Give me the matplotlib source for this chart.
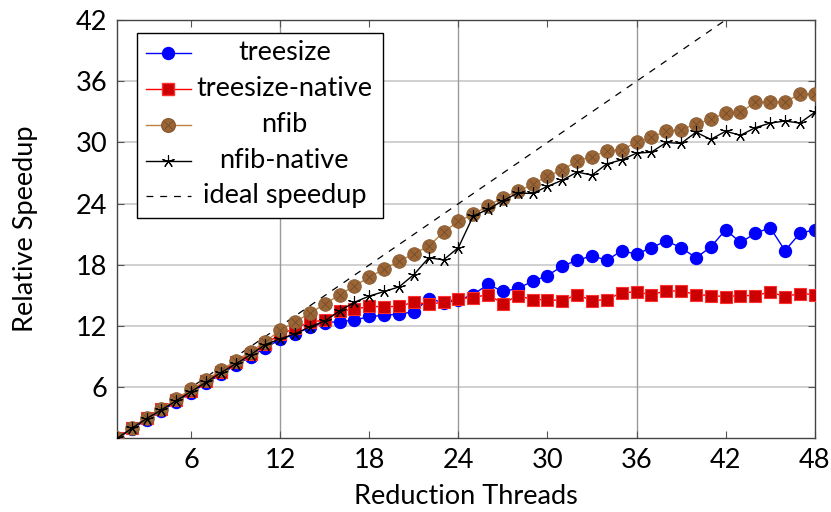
import matplotlib
matplotlib.use('Agg')
import matplotlib.pyplot as plt
from matplotlib.lines import Line2D
from matplotlib.patches import Rectangle

plt.rcParams['font.family'] = ['Lato', 'DejaVu Sans']

# data
threads = list(range(1, 49))

treesize = [1.0, 1.9, 2.85, 3.7, 4.6, 5.5, 6.4, 7.3, 8.2, 9.0, 9.9, 10.7,
            11.25, 11.9, 12.35, 12.45, 12.6, 12.95, 13.05, 13.2, 13.4, 14.7,
            14.3, 14.55, 15.1, 16.1, 15.4, 15.7, 16.4, 16.95, 17.9, 18.45,
            18.9, 18.45, 19.4, 19.05, 19.7, 20.35, 19.7, 18.7, 19.75, 21.45,
            20.2, 21.1, 21.65, 19.4, 21.1, 21.45]

treesize_native = [1.0, 2.0, 3.0, 3.85, 4.8, 5.7, 6.6, 7.55, 8.45, 9.3, 10.3,
                   11.2, 11.8, 12.4, 12.6, 13.5, 13.65, 13.95, 13.9, 13.95,
                   14.35, 14.15, 14.35, 14.7, 14.8, 15.1, 14.2, 15.0, 14.6,
                   14.6, 14.5, 15.1, 14.5, 14.6, 15.3, 15.35, 15.1, 15.45,
                   15.45, 15.1, 15.0, 14.9, 15.0, 15.0, 15.35, 14.9, 15.2, 15.1]

nfib = [1.0, 2.05, 3.05, 3.9, 4.9, 5.8, 6.7, 7.7, 8.6, 9.5, 10.5, 11.6,
        12.4, 13.3, 14.15, 15.1, 15.95, 16.8, 17.6, 18.35, 19.1, 19.85,
        21.2, 22.3, 22.95, 23.8, 24.6, 25.2, 25.9, 26.7, 27.3, 28.2, 28.6,
        29.15, 29.3, 30.0, 30.5, 31.1, 31.25, 31.8, 32.25, 32.9, 32.95,
        33.95, 33.95, 33.95, 34.75, 34.7]

nfib_native = [1.0, 2.0, 2.95, 3.8, 4.7, 5.6, 6.5, 7.45, 8.3, 9.2, 10.2,
               10.75, 11.25, 11.95, 12.5, 13.5, 14.35, 14.95, 15.4, 15.85,
               17.05, 18.7, 18.5, 19.7, 22.8, 23.45, 24.3, 25.05, 25.0, 25.7,
               26.3, 27.1, 26.8, 27.9, 28.3, 28.95, 29.05, 30.0, 29.9, 31.0,
               30.3, 31.1, 30.7, 31.45, 31.9, 32.1, 31.9, 32.95]

ideal = [1, 48]

xticks = [6, 12, 18, 24, 30, 36, 42, 48]
yticks = [6, 12, 18, 24, 30, 36, 42]

BROWN = '#bf8040'
BROWN_FILL = '#9a6638'
BROWN_EDGE = '#8a5a30'
STAR = (5, 2, 0)
DASH = (0, (5.5, 5.5))
FS = 19.5

fig = plt.figure(figsize=(8.31, 5.12), dpi=100)
ax = fig.add_axes([0.1407, 0.1436, 0.8397, 0.8174])

# grid: horizontal at every y tick, vertical only at 12/24/36
for y in yticks:
    ax.axhline(y, color='#c8c8c8', lw=1.2, zorder=0)
for x in [12, 24, 36]:
    ax.axvline(x, color='#9a9a9a', lw=1.0, zorder=0)

ax.plot(ideal, ideal, color='black', lw=0.9, ls=DASH, zorder=1)
ax.plot(threads, treesize, color='blue', lw=1, marker='o', ms=8.6,
        mfc='blue', mec='blue', zorder=2)
ax.plot(threads, treesize_native, color='red', lw=1, marker='s', ms=8.6,
        mfc='#cc0000', mec='#ff3030', mew=0.8, zorder=3)
ax.plot(threads, nfib, color=BROWN, lw=1, marker='o', ms=9.8,
        mfc=BROWN_FILL, mec=BROWN_EDGE, mew=0.6, zorder=4)
ax.plot(threads, nfib, ls='none', marker='x', ms=6, mec='#744a26',
        mew=0.6, zorder=4)
ax.plot(threads, nfib_native, color='black', lw=1, marker=STAR, ms=9,
        mew=0.8, zorder=5)

ax.set_xlim(1, 48)
ax.set_ylim(1, 42)
ax.set_xticks(xticks)
ax.set_yticks(yticks)
ax.tick_params(direction='in', length=5, width=0.8, color='#555555',
               top=True, right=True, labelsize=FS, pad=7)
for s in ax.spines.values():
    s.set_color('#444444')
    s.set_linewidth(1.0)

ax.set_xlabel('Reduction Threads', fontsize=FS, labelpad=8)
ax.set_ylabel('Relative Speedup', fontsize=FS, labelpad=27)

# legend drawn by hand so the labels are centred like pgfplots
x0, x1, yt, yb = 0.0288, 0.3813, 0.969, 0.527
ax.add_patch(Rectangle((x0, yb), x1 - x0, yt - yb, transform=ax.transAxes,
                       facecolor='white', edgecolor='black', lw=1.0,
                       zorder=10))
labels = ['treesize', 'treesize-native', 'nfib', 'nfib-native',
          'ideal speedup']
styles = [dict(color='blue', marker='o', ms=8.6, mfc='blue', mec='blue'),
          dict(color='red', marker='s', ms=8.6, mfc='#cc0000', mec='#ff3030'),
          dict(color=BROWN, marker='o', ms=9.8, mfc=BROWN_FILL, mec=BROWN_EDGE),
          dict(color='black', marker=STAR, ms=9, mew=0.8),
          dict(color='black', ls=DASH, lw=0.9)]
rows_px = [53, 89, 125, 161, 196]
for lab, st, rp in zip(labels, styles, rows_px):
    yy = 1 - (rp - 20) / 418.5
    ln = Line2D([0.0416, 0.0738, 0.1059], [yy, yy, yy],
                transform=ax.transAxes, zorder=11, lw=st.pop('lw', 1), **st)
    ln.set_markevery([1])
    ax.add_line(ln)
    if lab == 'nfib':
        ax.add_line(Line2D([0.0738], [yy], transform=ax.transAxes, ls='none',
                           marker='x', ms=6, mec='#744a26', mew=0.6,
                           zorder=12))
    ax.text(0.2398, yy, lab, transform=ax.transAxes, ha='center',
            va='center', fontsize=FS, zorder=12)

fig.savefig('out.png', dpi=100)
